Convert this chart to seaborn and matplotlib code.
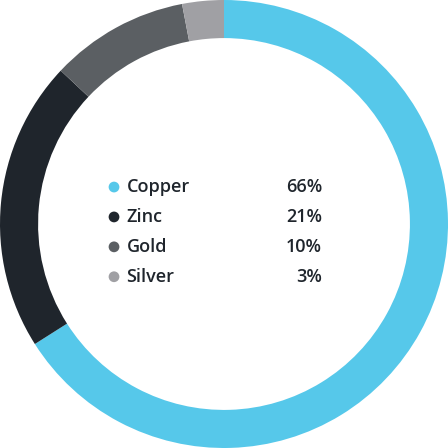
import matplotlib
matplotlib.use("Agg")
import matplotlib.pyplot as plt
import seaborn as sns

categories = ["Copper", "Zinc", "Gold", "Silver"]
values = [66, 21, 10, 3]
labels_pct = ["66%", "21%", "10%", "3%"]
colors = ["#56C8EA", "#1F252C", "#5B5F63", "#A0A0A4"]

sns.set_theme(style="white")
plt.rcParams['font.family'] = ['Open Sans', 'DejaVu Sans']

fig = plt.figure(figsize=(4.48, 4.48), dpi=100)
ax = fig.add_axes([0, 0, 1, 1])
ax.pie(values, colors=colors, startangle=90, counterclock=False, radius=1.0,
       wedgeprops=dict(width=0.17, edgecolor="none", linewidth=0))
ax.set_xlim(-1.0, 1.0)
ax.set_ylim(-1.0, 1.0)
ax.set_aspect("equal")
ax.axis("off")

y0, dy = 0.165, -0.1335
for i, (cat, pct, col) in enumerate(zip(categories, labels_pct, colors)):
    y = y0 + i * dy
    ax.scatter([-0.491], [y], s=60, color=col, edgecolor="none", zorder=3)
    ax.text(-0.435, y, cat, ha="left", va="center", fontsize=13, fontweight="semibold", color="#1F252C")
    ax.text(0.4375, y, pct, ha="right", va="center", fontsize=13, fontweight="semibold", color="#1F252C")

fig.savefig("out.png", dpi=100, facecolor="white")
